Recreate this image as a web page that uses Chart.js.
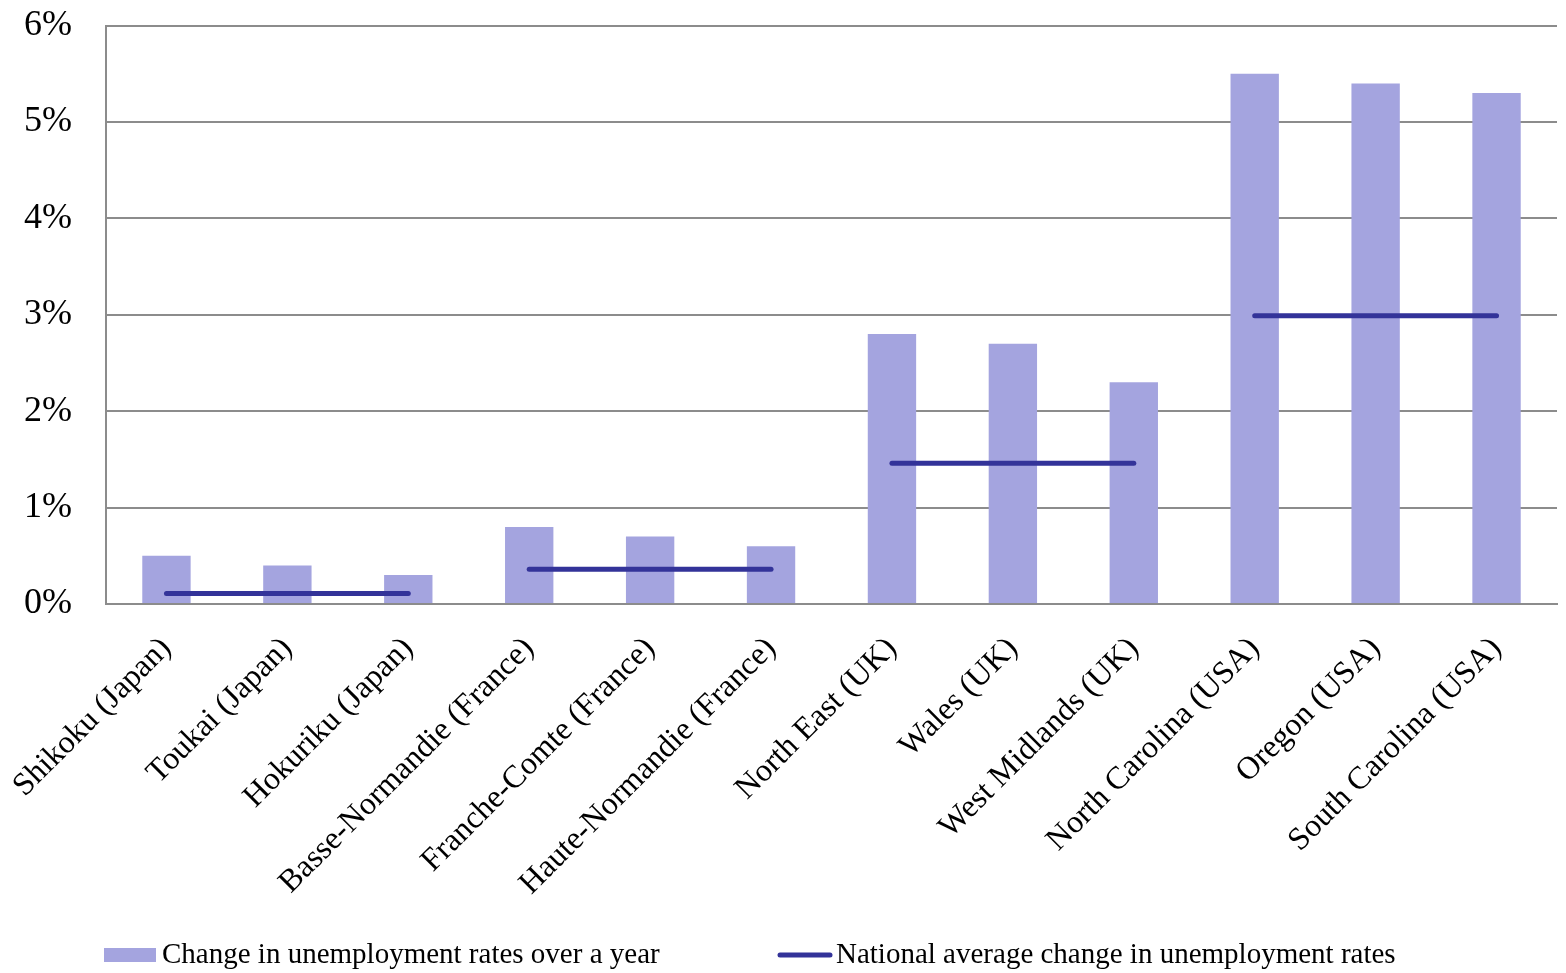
<!DOCTYPE html>
<html lang="en">
<head>
<meta charset="UTF-8">
<title>Unemployment rate change by region</title>
<script src="https://cdn.jsdelivr.net/npm/chart.js@4.4.1/dist/chart.umd.min.js"></script>
<style>
  html, body { margin: 0; padding: 0; background: #fff; }
  #wrap { width: 1566px; height: 973px; }
</style>
</head>
<body>
<div id="wrap"><canvas id="myChart"></canvas></div>
<script>
// regions, and which country each belongs to
const regions = ['Shikoku (Japan)', 'Toukai (Japan)', 'Hokuriku (Japan)',
  'Basse-Normandie (France)', 'Franche-Comte (France)', 'Haute-Normandie (France)',
  'North East (UK)', 'Wales (UK)', 'West Midlands (UK)',
  'North Carolina (USA)', 'Oregon (USA)', 'South Carolina (USA)'];
const country = ['Japan', 'Japan', 'Japan', 'France', 'France', 'France',
  'UK', 'UK', 'UK', 'USA', 'USA', 'USA'];

// change over a year, in %
const regionChange = [0.5, 0.4, 0.3, 0.8, 0.7, 0.6, 2.8, 2.7, 2.3, 5.5, 5.4, 5.3];

// national average change, in %
const countries = ['Japan', 'France', 'UK', 'USA'];
const nationalAvg = [0.11, 0.36, 1.46, 2.99];

const yTicks = [0, 1, 2, 3, 4, 5, 6];

const barColor = '#a4a4df';
const lineColor = '#333399';
const gridColor = '#8c8c8c';
const serif = '"Liberation Serif", "Times New Roman", serif';

// one value per region for the line, gaps between countries hidden by segment colour
const avgPerRegion = country.map(c => nationalAvg[countries.indexOf(c)]);

// legend along the bottom, items placed like the original
const legendPlugin = {
  id: 'bottomLegend',
  afterDraw(chart) {
    const c = chart.ctx;
    const xs = [104, 778];
    const y = 955;
    c.save();
    c.font = '29px ' + serif;
    c.textBaseline = 'middle';
    c.textAlign = 'left';
    chart.data.datasets.forEach((ds, i) => {
      const x = xs[i];
      if (ds.type === 'line') {
        c.strokeStyle = ds.borderColor;
        c.lineWidth = ds.borderWidth;
        c.lineCap = 'round';
        c.beginPath();
        c.moveTo(x + 2, y);
        c.lineTo(x + 52, y);
        c.stroke();
      } else {
        c.fillStyle = ds.backgroundColor;
        c.fillRect(x, y - 7, 52, 14);
      }
      c.fillStyle = '#000';
      c.fillText(ds.label, x + 58, y);
    });
    c.restore();
  }
};

let ctx = document.getElementById('myChart').getContext('2d');
let chart = new Chart(ctx, {
  type: 'bar',
  data: {
    labels: regions,
    datasets: [{
      label: 'Change in unemployment rates over a year',
      data: regionChange,
      backgroundColor: barColor,
      borderWidth: 0,
      barPercentage: 0.4,
      categoryPercentage: 1,
      order: 2
    }, {
      type: 'line',
      label: 'National average change in unemployment rates',
      data: avgPerRegion,
      borderColor: lineColor,
      backgroundColor: lineColor,
      borderWidth: 5,
      borderCapStyle: 'round',
      pointRadius: 0,
      pointHoverRadius: 0,
      fill: false,
      segment: {
        borderColor: s => country[s.p0DataIndex] === country[s.p1DataIndex] ? lineColor : 'rgba(0,0,0,0)'
      },
      order: 1
    }]
  },
  options: {
    responsive: true,
    maintainAspectRatio: false,
    animation: false,
    layout: { padding: { top: 0, right: 9, left: 0, bottom: 39 } },
    plugins: {
      tooltip: { enabled: false },
      legend: { display: false }
    },
    scales: {
      x: {
        grid: { display: false },
        border: { display: true, color: gridColor, width: 2 },
        ticks: {
          autoSkip: false,
          minRotation: 45,
          maxRotation: 45,
          padding: 18,
          color: '#000',
          font: { family: serif, size: 32 }
        },
        afterFit: s => { s.height = 330; s.paddingLeft = 0; s.paddingRight = 0; }
      },
      y: {
        min: 0,
        max: 6,
        afterBuildTicks: s => { s.ticks = yTicks.map(v => ({ value: v })); },
        grid: { color: gridColor, lineWidth: 2, drawTicks: true, tickLength: 30, tickColor: 'rgba(0,0,0,0)' },
        border: { display: true, color: gridColor, width: 2 },
        ticks: {
          padding: 4,
          color: '#000',
          font: { family: serif, size: 36 },
          callback: v => v + '%'
        },
        afterFit: s => { s.width = 106; }
      }
    }
  },
  plugins: [legendPlugin]
});
</script>
</body>
</html>
